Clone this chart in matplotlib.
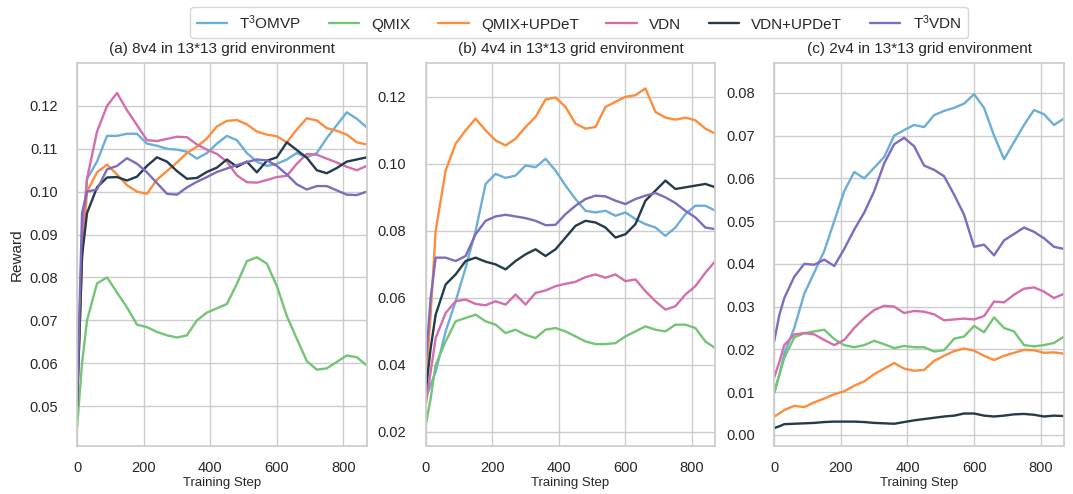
import matplotlib
matplotlib.use("Agg")
import matplotlib.pyplot as plt
import seaborn as sns

sns.set_theme(style="whitegrid")
plt.rcParams["font.family"] = ["Liberation Sans", "DejaVu Sans"]
plt.rcParams["mathtext.default"] = "regular"

steps = [0, 15, 30, 60, 90, 120, 150, 180, 210, 240, 270, 300, 330, 360, 390,
         420, 450, 480, 510, 540, 570, 600, 630, 660, 690, 720, 750, 780, 810, 840, 870]

labels = ["T$^3$OMVP", "QMIX", "QMIX+UPDeT", "VDN", "VDN+UPDeT", "T$^3$VDN"]
colors = ["#6baed6", "#74c476", "#fd8d3c", "#d36ead", "#233b4a", "#7e6bbd"]

# (a) 8v4
a_t3omvp = [0.050, 0.085, 0.103, 0.107, 0.113, 0.113, 0.1135, 0.1135, 0.1112, 0.1107, 0.110, 0.1098,
            0.1093, 0.1077, 0.109, 0.1112, 0.113, 0.112, 0.109, 0.107, 0.106, 0.1065, 0.1075, 0.109,
            0.108, 0.109, 0.1125, 0.1155, 0.1185, 0.117, 0.115]
a_qmix = [0.045, 0.060, 0.070, 0.0786, 0.080, 0.0765, 0.073, 0.069, 0.0684, 0.0673, 0.0665, 0.066,
          0.0665, 0.070, 0.0718, 0.0728, 0.0738, 0.0785, 0.0838, 0.0847, 0.0832, 0.078, 0.071, 0.0657,
          0.0605, 0.0585, 0.0588, 0.0603, 0.0618, 0.0614, 0.0595]
a_qmix_updet = [0.050, 0.085, 0.100, 0.1045, 0.1063, 0.104, 0.1015, 0.100, 0.0995, 0.1028, 0.1048, 0.1068,
                0.109, 0.1105, 0.1124, 0.1152, 0.1165, 0.1167, 0.1157, 0.114, 0.1133, 0.1129, 0.1115, 0.1145,
                0.1171, 0.1166, 0.1148, 0.1142, 0.1133, 0.1115, 0.111]
a_vdn = [0.050, 0.090, 0.103, 0.114, 0.120, 0.123, 0.119, 0.1155, 0.112, 0.1118, 0.1123, 0.1128,
         0.1127, 0.111, 0.1098, 0.1088, 0.107, 0.1038, 0.1022, 0.1021, 0.1027, 0.1034, 0.1037, 0.1065,
         0.1088, 0.1086, 0.1077, 0.1068, 0.1058, 0.105, 0.106]
a_vdn_updet = [0.050, 0.085, 0.095, 0.101, 0.1033, 0.1034, 0.1026, 0.1035, 0.106, 0.108, 0.107, 0.1048,
               0.103, 0.1032, 0.1046, 0.1056, 0.1075, 0.1058, 0.107, 0.1045, 0.1072, 0.108, 0.1115, 0.1097,
               0.1079, 0.105, 0.1043, 0.1055, 0.107, 0.1075, 0.108]
a_t3vdn = [0.050, 0.095, 0.100, 0.1005, 0.1052, 0.106, 0.1078, 0.1065, 0.1045, 0.102, 0.0995, 0.0993,
           0.101, 0.1023, 0.1034, 0.1046, 0.1054, 0.1062, 0.1069, 0.1075, 0.1073, 0.106, 0.104, 0.1017,
           0.1005, 0.1013, 0.1013, 0.1003, 0.0993, 0.0992, 0.100]

# (b) 4v4
b_t3omvp = [0.030, 0.034, 0.038, 0.050, 0.059, 0.069, 0.080, 0.094, 0.097, 0.0958, 0.0965, 0.0995,
            0.099, 0.1015, 0.098, 0.0935, 0.0895, 0.086, 0.0855, 0.086, 0.0845, 0.0855, 0.0835, 0.082,
            0.081, 0.0785, 0.081, 0.085, 0.0875, 0.0875, 0.086]
b_qmix = [0.022, 0.030, 0.040, 0.047, 0.053, 0.054, 0.055, 0.053, 0.052, 0.0495, 0.0505, 0.049,
          0.048, 0.0505, 0.051, 0.050, 0.0485, 0.047, 0.0462, 0.0462, 0.0465, 0.0485, 0.050, 0.0515,
          0.0505, 0.050, 0.052, 0.052, 0.051, 0.047, 0.045]
b_qmix_updet = [0.035, 0.055, 0.080, 0.098, 0.106, 0.110, 0.1135, 0.110, 0.107, 0.1055, 0.1075, 0.111,
                0.114, 0.1192, 0.1198, 0.117, 0.112, 0.1105, 0.111, 0.117, 0.1185, 0.120, 0.1205, 0.1225,
                0.1155, 0.1138, 0.1132, 0.1138, 0.113, 0.1105, 0.109]
b_vdn = [0.028, 0.038, 0.048, 0.0555, 0.059, 0.0595, 0.0582, 0.0578, 0.059, 0.058, 0.061, 0.058,
         0.0615, 0.0622, 0.0635, 0.0642, 0.0648, 0.0662, 0.067, 0.066, 0.067, 0.065, 0.0655, 0.062,
         0.059, 0.0565, 0.0575, 0.061, 0.0635, 0.0675, 0.071]
b_vdn_updet = [0.032, 0.045, 0.055, 0.064, 0.067, 0.071, 0.072, 0.0708, 0.070, 0.0685, 0.071, 0.073,
               0.0745, 0.0725, 0.0745, 0.078, 0.0815, 0.083, 0.0825, 0.081, 0.078, 0.079, 0.082, 0.089,
               0.092, 0.095, 0.0925, 0.093, 0.0935, 0.094, 0.093]
b_t3vdn = [0.040, 0.060, 0.072, 0.072, 0.071, 0.0725, 0.079, 0.083, 0.0843, 0.0848, 0.0843, 0.0838,
           0.083, 0.0817, 0.0818, 0.085, 0.0875, 0.0895, 0.0905, 0.0903, 0.089, 0.088, 0.0895, 0.0905,
           0.0913, 0.090, 0.0883, 0.086, 0.084, 0.081, 0.0805]

# (c) 2v4
c_t3omvp = [0.010, 0.014, 0.019, 0.025, 0.033, 0.038, 0.043, 0.050, 0.057, 0.0615, 0.060, 0.0625,
            0.065, 0.070, 0.0713, 0.0725, 0.072, 0.0748, 0.0758, 0.0765, 0.0775, 0.0797, 0.0765, 0.070,
            0.0645, 0.0685, 0.0725, 0.076, 0.075, 0.0725, 0.074]
c_qmix = [0.0098, 0.014, 0.018, 0.0228, 0.0238, 0.0242, 0.0246, 0.0224, 0.021, 0.0205, 0.021, 0.022,
          0.0212, 0.0203, 0.0208, 0.0205, 0.0205, 0.0195, 0.0198, 0.0225, 0.023, 0.0255, 0.024, 0.0275,
          0.025, 0.0242, 0.021, 0.0207, 0.021, 0.0215, 0.023]
c_qmix_updet = [0.0043, 0.005, 0.0058, 0.0068, 0.0065, 0.0076, 0.0085, 0.0095, 0.0102, 0.0115, 0.0125, 0.0142,
                0.0155, 0.0168, 0.0155, 0.015, 0.0152, 0.0173, 0.0185, 0.0196, 0.0202, 0.0197, 0.0185, 0.0175,
                0.0185, 0.0192, 0.0199, 0.0198, 0.0192, 0.0193, 0.019]
c_vdn = [0.0135, 0.017, 0.021, 0.0235, 0.0238, 0.0235, 0.0222, 0.021, 0.0222, 0.025, 0.0273, 0.0292,
         0.0302, 0.030, 0.0285, 0.029, 0.0288, 0.0282, 0.0268, 0.027, 0.0272, 0.027, 0.0278, 0.0312,
         0.031, 0.0328, 0.0342, 0.0345, 0.0335, 0.032, 0.033]
c_vdn_updet = [0.0016, 0.002, 0.0025, 0.0026, 0.0027, 0.0028, 0.003, 0.0031, 0.0031, 0.0031, 0.003, 0.0028,
               0.0027, 0.0026, 0.003, 0.0034, 0.0037, 0.004, 0.0043, 0.0045, 0.005, 0.005, 0.0045, 0.0043,
               0.0045, 0.0048, 0.0049, 0.0047, 0.0043, 0.0045, 0.0044]
c_t3vdn = [0.022, 0.028, 0.032, 0.037, 0.040, 0.0398, 0.041, 0.0395, 0.0435, 0.048, 0.052, 0.057,
           0.0635, 0.068, 0.0695, 0.0675, 0.063, 0.062, 0.0605, 0.0562, 0.0515, 0.044, 0.0445, 0.042,
           0.0455, 0.047, 0.0485, 0.0475, 0.046, 0.044, 0.0435]

panels = [
    ("(a) 8v4 in 13*13 grid environment",
     [a_t3omvp, a_qmix, a_qmix_updet, a_vdn, a_vdn_updet, a_t3vdn],
     (0.0407, 0.130), [0.05, 0.06, 0.07, 0.08, 0.09, 0.10, 0.11, 0.12]),
    ("(b) 4v4 in 13*13 grid environment",
     [b_t3omvp, b_qmix, b_qmix_updet, b_vdn, b_vdn_updet, b_t3vdn],
     (0.0158, 0.1301), [0.02, 0.04, 0.06, 0.08, 0.10, 0.12]),
    ("(c) 2v4 in 13*13 grid environment",
     [c_t3omvp, c_qmix, c_qmix_updet, c_vdn, c_vdn_updet, c_t3vdn],
     (-0.0026, 0.087), [0.00, 0.01, 0.02, 0.03, 0.04, 0.05, 0.06, 0.07, 0.08]),
]

fig, axes = plt.subplots(1, 3, figsize=(10.73, 4.94), dpi=100)
fig.subplots_adjust(left=0.0718, right=0.9916, bottom=0.0972, top=0.8725, wspace=0.2034)

for ax, (title, series, ylim, yticks) in zip(axes, panels):
    for vals, lab, col in zip(series, labels, colors):
        ax.plot(steps, vals, color=col, lw=1.7, label=lab)
    ax.set_xlim(0, 870)
    ax.set_ylim(*ylim)
    ax.set_xticks([0, 200, 400, 600, 800])
    ax.set_yticks(yticks)
    ax.set_yticklabels([f"{t:.2f}" for t in yticks])
    ax.set_title(title, fontsize=11, color="#262626", pad=7)
    ax.set_xlabel("Training Step", fontsize=9.5, color="#262626", labelpad=1)
    ax.tick_params(axis="y", labelsize=10.5, colors="#262626", pad=8)
    ax.tick_params(axis="x", labelsize=10.5, colors="#262626", pad=5)
    for s in ax.spines.values():
        s.set_color("#cccccc")

axes[0].set_ylabel("Reward", fontsize=11, color="#262626", labelpad=4)

handles, labs = axes[0].get_legend_handles_labels()
fig.legend(handles, labs, loc="center", bbox_to_anchor=(0.5396, 0.955), ncol=6,
           fontsize=11, columnspacing=1.8, frameon=True, edgecolor="#cccccc")

fig.savefig("out.png", dpi=100)
